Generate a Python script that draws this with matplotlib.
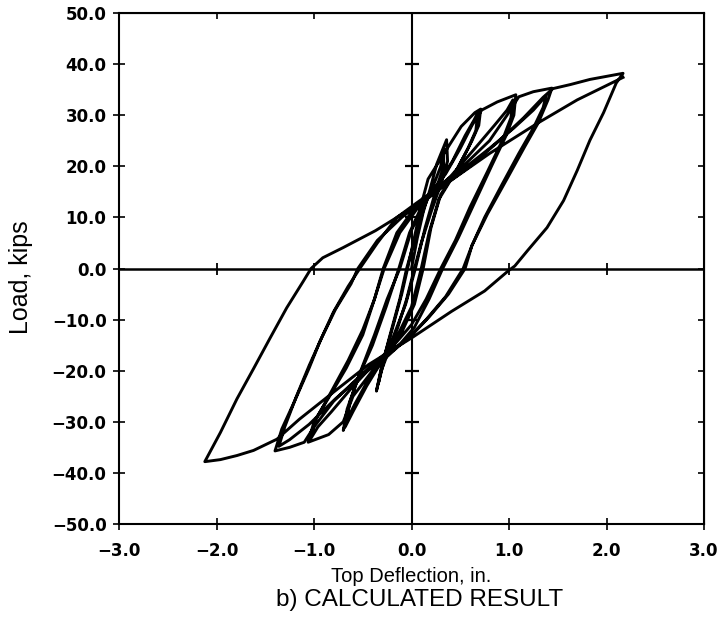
import numpy as np
import matplotlib
matplotlib.use("Agg")
import matplotlib.pyplot as plt

# ---- load-deflection history (in., kips), one block per amplitude level ----
defl_lvl1 = [0.00, 0.06, 0.12, 0.19, 0.26, 0.36,
             0.37, 0.31, 0.20, 0.10, 0.03, -0.05, -0.14, -0.24, -0.31, -0.36,
             -0.31, -0.22, -0.12, -0.05, 0.04, 0.13, 0.24, 0.30, 0.33,
             0.33, 0.26, 0.14, 0.04, -0.06, -0.18, -0.28, -0.34]
load_lvl1 = [0.0, 6.0, 11.0, 15.5, 20.5, 25.2,
             21.0, 17.0, 11.0, 5.0, 0.0, -6.0, -11.5, -16.5, -20.0, -24.0,
             -19.5, -13.0, -6.0, 0.0, 6.0, 12.0, 17.0, 20.0, 23.5,
             20.0, 16.0, 8.0, 0.0, -7.0, -13.0, -18.0, -22.5]

defl_lvl2 = [-0.29, -0.20, -0.10, -0.04, 0.04, 0.10, 0.17, 0.35, 0.51, 0.65, 0.71,
             0.69, 0.62, 0.47, 0.30, 0.20, 0.12, 0.03, -0.10, -0.28, -0.45, -0.58, -0.66, -0.70,
             -0.66, -0.55, -0.40, -0.26, -0.13, -0.02, 0.10, 0.25, 0.42, 0.55, 0.64, 0.68,
             0.66, 0.58, 0.44, 0.28, 0.18, 0.10, 0.00, -0.14, -0.30, -0.46, -0.60, -0.68]
load_lvl2 = [-18.0, -12.0, -5.0, 0.0, 7.0, 12.5, 17.5, 23.0, 27.8, 30.5, 31.2,
             28.0, 25.0, 19.5, 14.5, 8.0, 0.0, -7.0, -12.5, -17.5, -22.0, -26.5, -29.5, -31.7,
             -27.5, -21.5, -15.0, -7.5, 0.0, 7.0, 12.0, 16.0, 21.0, 26.0, 29.0, 30.5,
             27.0, 23.5, 18.5, 13.5, 7.0, 0.0, -7.5, -13.0, -18.0, -23.0, -28.0, -31.0]

defl_lvl3 = [-0.63, -0.52, -0.38, -0.25, -0.12, 0.00, 0.15, 0.35, 0.50, 0.62, 0.72, 0.88, 1.07,
             1.05, 0.97, 0.82, 0.65, 0.48, 0.32, 0.18, 0.03, -0.15, -0.38, -0.60, -0.70, -0.85, -1.06,
             -1.00, -0.84, -0.67, -0.50, -0.38, -0.29, -0.15, 0.00, 0.17, 0.40, 0.65, 0.85, 0.98, 1.04,
             1.02, 0.93, 0.78, 0.60, 0.45, 0.30, 0.15, 0.00, -0.18, -0.40, -0.62, -0.82, -0.96, -1.04]
load_lvl3 = [-26.0, -20.0, -13.0, -6.0, 0.0, 7.5, 13.5, 18.5, 23.5, 28.0, 31.0, 32.6, 34.0,
             30.0, 26.0, 20.0, 13.0, 6.0, 0.0, -6.0, -11.5, -15.5, -19.5, -25.0, -30.0, -32.5, -34.0,
             -30.0, -25.0, -19.5, -13.0, -6.0, 0.0, 7.0, 11.0, 14.0, 18.0, 23.5, 28.0, 31.0, 33.0,
             29.5, 25.0, 19.0, 12.0, 5.5, 0.0, -6.0, -11.0, -15.0, -19.0, -23.5, -28.0, -31.0, -33.5]

defl_lvl4 = [-0.98, -0.82, -0.65, -0.50, -0.38, -0.28, -0.12, 0.05, 0.25, 0.50, 0.80, 0.98, 1.10, 1.25, 1.44,
             1.40, 1.30, 1.16, 0.99, 0.78, 0.62, 0.53, 0.35, 0.15, -0.05, -0.25, -0.50, -0.80, -1.00, -1.10, -1.25, -1.40,
             -1.33, -1.20, -1.05, -0.94, -0.80, -0.65, -0.53, -0.35, -0.15, 0.05, 0.25, 0.50, 0.80, 1.05, 1.25, 1.38,
             1.35, 1.25, 1.10, 0.93, 0.75, 0.62, 0.55, 0.38, 0.18, -0.02, -0.22, -0.48, -0.78, -1.05, -1.25, -1.36,
             -1.30, -1.18, -1.05, -0.92, -0.78, -0.62, -0.55, -0.35, -0.10, 0.10, 0.35, 0.60, 0.90, 1.15, 1.35, 1.45]
load_lvl4 = [-29.5, -24.0, -18.0, -12.0, -6.0, 0.0, 7.0, 11.5, 15.5, 19.5, 25.0, 30.0, 33.6, 34.6, 35.3,
             33.0, 28.5, 23.8, 17.9, 10.7, 4.5, 0.0, -5.5, -10.0, -14.0, -16.5, -20.5, -26.0, -31.0, -34.0, -35.0, -35.7,
             -31.4, -26.0, -19.5, -14.3, -8.5, -3.5, 0.0, 5.0, 10.0, 12.8, 15.5, 19.0, 23.5, 27.5, 31.0, 33.8,
             31.5, 27.5, 22.5, 16.5, 10.0, 4.5, 0.0, -5.0, -9.5, -13.5, -16.5, -20.5, -25.5, -30.5, -33.5, -34.8,
             -31.0, -25.0, -19.0, -13.5, -8.0, -3.0, 0.0, 5.5, 10.0, 13.0, 16.5, 20.0, 25.0, 29.5, 33.5, 35.2]

defl_lvl5 = [1.63, 1.83, 2.00, 2.17,
             2.10, 1.97, 1.83, 1.70, 1.56, 1.39, 1.19, 1.06, 0.99, 0.75, 0.41, 0.00, -0.44, -0.84,
             -1.15, -1.38, -1.62, -1.79, -1.96, -2.12,
             -1.96, -1.79, -1.62, -1.45, -1.28, -1.11, -1.03, -0.91, -0.70, -0.37, -0.09, 0.14, 0.41,
             0.80, 1.29, 1.70, 2.17]
load_lvl5 = [36.0, 37.0, 37.6, 38.2,
             36.3, 30.5, 25.1, 19.2, 13.3, 8.0, 3.5, 0.5, -0.5, -4.4, -8.4, -13.6, -18.8, -24.8,
             -29.5, -33.4, -35.6, -36.6, -37.4, -37.8,
             -32.1, -25.5, -19.6, -13.6, -7.7, -2.5, 0.0, 2.1, 4.1, 7.4, 10.7, 13.3, 17.3,
             22.5, 28.4, 33.0, 37.4]

x_ticks = [-3.0, -2.0, -1.0, 0.0, 1.0, 2.0, 3.0]
y_ticks = [-50.0, -40.0, -30.0, -20.0, -10.0, 0.0, 10.0, 20.0, 30.0, 40.0, 50.0]


def fmt(v):
    s = f"{abs(v):.1f}"
    return ("\u2212" + s) if v < 0 else s


defl = np.concatenate([defl_lvl1, defl_lvl2, defl_lvl3, defl_lvl4, defl_lvl5])
load = np.concatenate([load_lvl1, load_lvl2, load_lvl3, load_lvl4, load_lvl5])

fig = plt.figure(figsize=(7.23, 6.29), dpi=100)
ax = fig.add_axes([119 / 723, 1 - 524 / 629, 585 / 723, 511 / 629])

ax.plot(defl, load, color="black", lw=2.1, solid_joinstyle="round", zorder=3)

# axis cross through the origin with its own cross ticks
ax.axhline(0, color="black", lw=1.8, zorder=2)
ax.axvline(0, color="black", lw=1.5, zorder=2)
inner_y = [v for v in y_ticks if v not in (0.0, -50.0, 50.0)]
inner_x = [v for v in x_ticks if v not in (0.0, -3.0, 3.0)]
ax.plot(np.zeros(len(inner_y)), inner_y, ls="none", marker="_", ms=10, mew=1.6,
        color="black", zorder=2)
ax.plot(inner_x, np.zeros(len(inner_x)), ls="none", marker="|", ms=8, mew=1.3,
        color="black", zorder=2)

ax.set_xlim(-3.0, 3.0)
ax.set_ylim(-50.0, 50.0)
ax.set_xticks(x_ticks)
ax.set_yticks(y_ticks)
ax.set_xticklabels([fmt(v) for v in x_ticks])
ax.set_yticklabels([fmt(v) for v in y_ticks])

for sp in ax.spines.values():
    sp.set_linewidth(1.5)

# bottom / left: ticks crossing the frame
ax.tick_params(axis="both", which="major", direction="inout", length=8, width=1.2,
               labelsize=12, color="black")
ax.tick_params(axis="y", pad=5)
ax.tick_params(axis="x", pad=9)
for lab in ax.get_xticklabels() + ax.get_yticklabels():
    lab.set_fontweight("bold")
    lab.set_family("DejaVu Sans")

# top / right: short inward ticks only
top = ax.secondary_xaxis("top")
top.set_xticks(x_ticks)
top.tick_params(direction="in", length=4, width=1.2, labeltop=False)
right = ax.secondary_yaxis("right")
right.set_yticks(y_ticks)
right.tick_params(direction="in", length=4, width=1.2, labelright=False)

fig.text(21 / 723, 1 - 277 / 629, "Load, kips", rotation=90, ha="center", va="center",
         fontsize=18, family="Liberation Sans")
fig.text(411 / 723, 1 - 577 / 629, "Top Deflection, in.", ha="center", va="center",
         fontsize=14.5, family="Liberation Sans")
fig.text(420 / 723, 1 - 600 / 629, "b) CALCULATED RESULT", ha="center", va="center",
         fontsize=17.5, family="Liberation Sans")

fig.savefig("out.png", dpi=100, facecolor="white")
